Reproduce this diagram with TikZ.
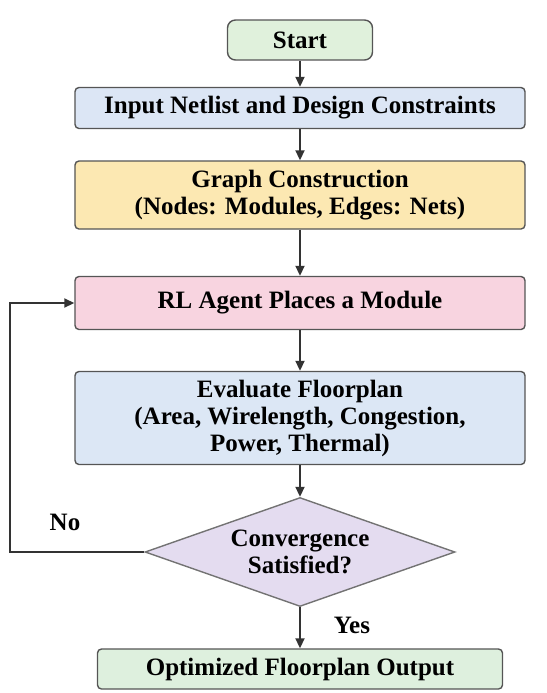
\documentclass[tikz,border=0pt]{standalone}
\usepackage{fontspec}
\setmainfont{LiberationSerif}[Extension=.ttf, UprightFont=*-Regular, BoldFont=*-Bold]
\usetikzlibrary{shapes.geometric,arrows.meta}
\definecolor{startgreen}{RGB}{224,241,220}
\definecolor{inputblue}{RGB}{220,230,245}
\definecolor{graphyellow}{RGB}{252,232,178}
\definecolor{rlpink}{RGB}{248,212,224}
\definecolor{evalblue}{RGB}{220,231,245}
\definecolor{decviolet}{RGB}{228,220,240}
\definecolor{outgreen}{RGB}{222,240,222}
\definecolor{linegray}{RGB}{85,85,85}
\tikzset{
  block/.style={draw=linegray, line width=0.7pt, rounded corners=2pt, align=center,
    font=\fontsize{12.5}{13.5}\selectfont\bfseries, inner sep=0pt},
  flow/.style={-{Triangle[length=5pt,width=4.5pt]}, line width=0.9pt, draw=black!80},
  lbl/.style={font=\fontsize{12.5}{13.5}\selectfont\bfseries}
}
\begin{document}
\begin{tikzpicture}[x=0.5pt,y=-0.5pt]
\useasboundingbox (0,0) rectangle (547,693);

\node[block, fill=startgreen, minimum width=72.5pt, minimum height=20pt, rounded corners=4pt] (start) at (300,40) {Start};
\node[block, fill=inputblue, minimum width=225pt, minimum height=20.5pt] (input) at (300,108) {Input Netlist and Design Constraints};
\node[block, fill=graphyellow, minimum width=225pt, minimum height=34pt] (graph) at (300,195) {Graph Construction\\(Nodes: Modules, Edges: Nets)};
\node[block, fill=rlpink, minimum width=225pt, minimum height=26.5pt] (rl) at (300,303) {RL Agent Places a Module};
\node[block, fill=evalblue, minimum width=225pt, minimum height=46.5pt] (eval) at (300,418) {Evaluate Floorplan\\(Area, Wirelength, Congestion,\\Power, Thermal)};
\node[block, diamond, rounded corners=0pt, draw=black!55, fill=decviolet, aspect=2.8, minimum width=155pt, minimum height=54.5pt] (conv) at (300,552) {Convergence\\Satisfied?};
\node[block, fill=outgreen, minimum width=202.5pt, minimum height=20pt] (out) at (300,669) {Optimized Floorplan Output};

\draw[flow] (start) -- (input);
\draw[flow] (input) -- (graph);
\draw[flow] (graph) -- (rl);
\draw[flow] (rl) -- (eval);
\draw[flow] (eval) -- (conv);
\draw[flow] (conv) -- (out);

\coordinate (loop) at (10,552);
\draw[flow] (conv.west) -- (loop) |- (rl.west);

\node[lbl] (no) at (65,522) {No};
\node[lbl] (yes) at (352,625) {Yes};
\end{tikzpicture}
\end{document}
